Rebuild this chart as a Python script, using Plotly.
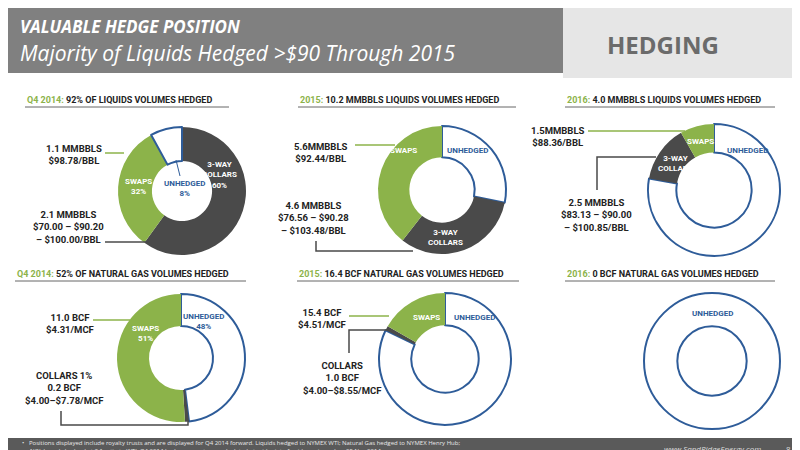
import plotly.graph_objects as go

W, H = 800, 450
# ---- data ----
q4_liq_labels = ["3-Way Collars", "Swaps", "Unhedged"]
q4_liq_values = [60, 32, 8]
liq15_labels = ["Unhedged", "3-Way Collars", "Swaps"]
liq15_values = [4.0, 4.6, 5.6]          # MMBBLS (unhedged estimated)
liq16_labels = ["Unhedged", "3-Way Collars", "Swaps"]
liq16_values = [14.0, 2.5, 1.5]         # MMBBLS (unhedged estimated)
q4_gas_labels = ["Unhedged", "Collars", "Swaps"]
q4_gas_values = [48, 1, 51]
gas15_labels = ["Unhedged", "Collars", "Swaps"]
gas15_values = [75.6, 1.0, 15.4]        # BCF (unhedged estimated)
gas16_labels = ["Unhedged"]
gas16_values = [100]

GREEN, GRAY, BLUE, DARK = "#8cb34a", "#4a4a4a", "#2e5c99", "#222222"
FILL = {"Swaps": GREEN, "3-Way Collars": GRAY, "Collars": GRAY, "Unhedged": "white"}
FONT = "Roboto, sans-serif"

def X(p): return p / W
def Y(p): return 1 - p / H

fig = go.Figure()

def pie(labels, values, cx, cy, r, hole):
    fig.add_trace(go.Pie(
        labels=labels, values=values, sort=False, direction="clockwise", rotation=0,
        hole=hole, textinfo="none", hoverinfo="label+value", showlegend=False,
        domain=dict(x=[X(cx - r), X(cx + r)], y=[Y(cy + r), Y(cy - r)]),
        marker=dict(colors=[FILL[l] for l in labels],
                    line=dict(color=[BLUE if l == "Unhedged" else "white" for l in labels],
                              width=[2 if l == "Unhedged" else 0 for l in labels]))))

pie(q4_liq_labels, q4_liq_values, 174, 183, 64, 0.47)
pie(liq15_labels, liq15_values, 434, 182, 64, 0.51)
pie(liq16_labels, liq16_values, 706, 182, 66, 0.57)
pie(q4_gas_labels, q4_gas_values, 173, 350, 64, 0.5)
pie(gas15_labels, gas15_values, 437, 351, 66, 0.51)
pie(gas16_labels, gas16_values, 704, 353, 68, 0.51)

shapes, ann = [], []
def rect(x0, y0, x1, y1, color):
    shapes.append(dict(type="rect", xref="paper", yref="paper", x0=X(x0), x1=X(x1),
                       y0=Y(y1), y1=Y(y0), fillcolor=color, line=dict(width=0), layer="below"))
def path(pts, color, w=1.5):
    d = "M " + " L ".join(f"{X(a)},{Y(b)}" for a, b in pts)
    shapes.append(dict(type="path", xref="paper", yref="paper", path=d,
                       line=dict(color=color, width=w)))
def text(x, y, s, color=DARK, size=9.5, anchor="center", family=FONT, bold=True, italic=False):
    if bold: s = "<b>" + s + "</b>"
    if italic: s = "<i>" + s + "</i>"
    ann.append(dict(xref="paper", yref="paper", x=X(x), y=Y(y), text=s, showarrow=False,
                    xanchor=anchor, yanchor="middle", align=anchor if anchor != "center" else "center",
                    font=dict(color=color, size=size, family=family)))

# header
rect(0, 0, 555, 65, "#808080")
rect(555, 0, 800, 70, "#e6e6e6")
text(10, 18, "VALUABLE HEDGE POSITION", "white", 17, "left", "Open Sans, sans-serif", True, True)
text(10, 45, "Majority of Liquids Hedged >$90 Through 2015", "white", 21, "left", "Open Sans, sans-serif", False, True)
text(655, 37, "HEDGING", "#6b6b6b", 24, "center", "Open Sans, sans-serif", True, False)

# section headings
def heading(x0, x1, y, lead, rest):
    text(x0, y, f"<span style='color:{GREEN}'>{lead}</span> {rest}", DARK, 9, "left")
    path([(x0, y + 7), (x1, y + 7)], "#666666", 1)
heading(17, 221, 92, "Q4 2014:", "92% OF LIQUIDS VOLUMES HEDGED")
heading(290, 508, 92, "2015:", "10.2 MMBBLS LIQUIDS VOLUMES HEDGED")
heading(557, 767, 92, "2016:", "4.0 MMBBLS LIQUIDS VOLUMES HEDGED")
heading(7, 238, 266, "Q4 2014:", "52% OF NATURAL GAS VOLUMES HEDGED")
heading(289, 511, 266, "2015:", "16.4 BCF NATURAL GAS VOLUMES HEDGED")
heading(557, 767, 266, "2016:", "0 BCF NATURAL GAS VOLUMES HEDGED")

# pie 1
text(66, 146, "1.1 MMBBLS<br>$98.78/BBL")
path([(97, 145), (116, 145)], GREEN)
text(60, 219, "2.1 MMBBLS<br>$70.00 – $90.20<br>– $100.00/BBL")
path([(97, 234), (140, 234)], GRAY)
text(211, 167, "3-WAY<br>COLLARS<br>60%", "white", 8)
text(130, 178, "SWAPS<br>32%", "white", 8)
text(176, 180, "UNHEDGED<br>8%", BLUE, 8)
path([(168, 152), (172, 168)], BLUE, 1)
# pie 2
text(313, 145, "5.6MMBBLS<br>$92.44/BBL")
path([(347, 137), (387, 137)], GREEN)
text(305, 210, "4.6 MMBBLS<br>$76.56 – $90.28<br>– $103.48/BBL")
path([(308, 233), (308, 243), (405, 243)], GRAY)
text(395, 143, "SWAPS", "white", 8)
text(459, 143, "UNHEDGED", BLUE, 8)
text(437, 230, "3-WAY<br>COLLARS", "white", 8)
# pie 3
text(550, 129, "1.5MMBBLS<br>$88.36/BBL")
path([(580, 123), (677, 123)], GREEN)
text(692, 133, "SWAPS", "white", 8)
text(739, 143, "UNHEDGED", BLUE, 8)
text(667, 155, "3-WAY<br>COLLARS", "white", 8)
path([(648, 149), (589, 149), (589, 182)], GRAY)
text(588, 207, "2.5 MMBBLS<br>$83.13 – $90.00<br>– $100.85/BBL")
# pie 4
text(62, 315, "11.0 BCF<br>$4.31/MCF")
path([(85, 312), (122, 312)], GREEN)
text(137, 325, "SWAPS<br>51%", "white", 8)
text(195, 313, "UNHEDGED<br>48%", BLUE, 8)
text(57, 380, "COLLARS 1%<br>0.2 BCF<br>$4.00–$7.78/MCF")
path([(53, 403), (53, 417), (180, 417), (180, 413)], GRAY)
# pie 5
text(314, 310, "15.4 BCF<br>$4.51/MCF")
path([(341, 308), (381, 308)], GREEN)
path([(381, 322), (341, 322), (341, 345)], GRAY)
text(334, 370, "COLLARS<br>1.0 BCF<br>$4.00–$8.55/MCF")
text(418, 309, "SWAPS", "white", 8)
text(466, 309, "UNHEDGED", BLUE, 8)
# pie 6
text(704, 305, "UNHEDGED", BLUE, 8)

# footer
rect(0, 430, 800, 450, "#5a5a5a")
text(12, 435, "•   Positions displayed include royalty trusts and are displayed for Q4 2014 forward. Liquids hedged to NYMEX WTI; Natural Gas hedged to NYMEX Henry Hub;",
     "#e8e8e8", 6, "left", "Open Sans, sans-serif", False)
text(20, 443, "NGL barrels hedged at 3:1 ratio to WTI. Q4 2014 hedge percentages calculated at midpoint of guidance issued on 05 Nov 2014.",
     "#e8e8e8", 6, "left", "Open Sans, sans-serif", False)
text(755, 440, "www.SandRidgeEnergy.com", "#dddddd", 8, "right", "Open Sans, sans-serif", False, True)
text(780, 440, "8", "#dddddd", 8, "center", "Open Sans, sans-serif", False)

fig.update_layout(width=W, height=H, margin=dict(l=0, r=0, t=0, b=0),
                  paper_bgcolor="white", plot_bgcolor="white",
                  shapes=shapes, annotations=ann)
fig.write_html("out.html")
